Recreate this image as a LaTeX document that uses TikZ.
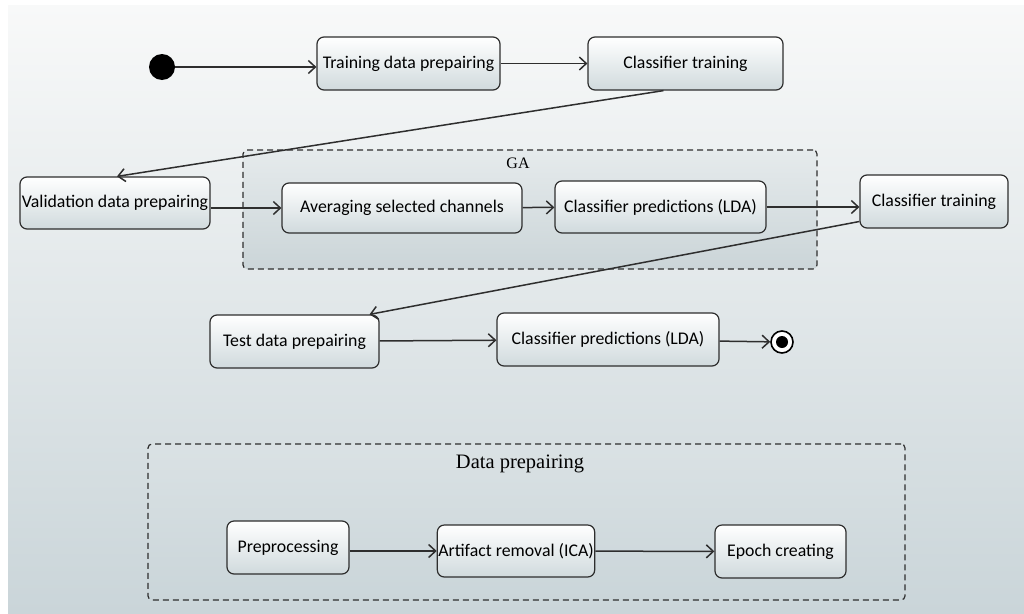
\documentclass[tikz,border=0pt]{standalone}
\usepackage{fontspec}
\setmainfont{Liberation Serif}
\newfontfamily\actfont{Carlito}
\usetikzlibrary{arrows.meta}
\definecolor{bgtop}{HTML}{F8F9F9}
\definecolor{bgbot}{HTML}{CAD5D9}
\definecolor{boxbot}{HTML}{D0DADD}
\definecolor{linecol}{HTML}{2E2E2E}

\begin{document}
\begin{tikzpicture}[x=1pt,y=-1pt,
	act/.style={draw=linecol,line width=1.2pt,rounded corners=7pt,top color=white,bottom color=boxbot,
		inner sep=1pt,font=\actfont\fontsize{17.8}{19}\selectfont},
	dims/.style 2 args={minimum width=#1,minimum height=#2},
	region/.style={draw=linecol,line width=1.2pt,dash pattern=on 6pt off 4pt,rounded corners=4pt,inner sep=0pt},
	regtitle/.style={font=\fontsize{#1}{#1}\selectfont},
	flow/.style={draw=linecol,line width=1.5pt,-{Straight Barb[length=7pt,width=13pt]}}]
	\useasboundingbox (0,0) rectangle (1024,613);
	\shade[top color=bgtop,bottom color=bgbot] (8,5) rectangle (1024,613);

	% groups
	\node[region,dims={574pt}{119pt},top color=bgtop!60!bgbot,bottom color=bgbot!90!black!20!boxbot] (ga) at (530,209.5) {};
	\node[regtitle=16] (galabel) at (518,163) {GA};
	\node[region,dims={757pt}{156pt},top color=bgtop!35!bgbot,bottom color=bgbot] (dataprep) at (526.5,522) {};
	\node[regtitle=20.5] (dplabel) at (520,464) {Data prepairing};

	% main flow
	\node[circle,fill=black,minimum size=26pt,inner sep=0pt] (start) at (162,67) {};
	\node[act,dims={183pt}{53pt}] (train) at (408.5,63.5) {Training data prepairing};
	\node[act,dims={195pt}{53pt}] (ct1) at (685.5,63.5) {Classifier training};
	\node[act,dims={190pt}{52pt}] (val) at (115,203) {Validation data prepairing};
	\node[act,dims={240pt}{50pt}] (avg) at (402,208) {Averaging selected channels};
	\node[act,dims={211pt}{52pt}] (lda1) at (660.5,207) {Classifier predictions (LDA)};
	\node[act,dims={148pt}{53pt}] (ct2) at (934,201.5) {Classifier training};
	\node[act,dims={169pt}{53pt}] (test) at (294.5,341.5) {Test data prepairing};
	\node[act,dims={222pt}{53pt}] (lda2) at (608,339.5) {Classifier predictions (LDA)};
	\node[circle,draw=black,line width=1.6pt,fill=white,minimum size=22pt,inner sep=0pt] (stop) at (782,342) {};
	\node[circle,fill=black,minimum size=12pt,inner sep=0pt] (stopdot) at (stop) {};

	% data preparing steps
	\node[act,dims={122pt}{53pt}] (prep) at (288,547.5) {Preprocessing};
	\node[act,dims={156pt}{52pt}] (art) at (516,551) {Artifact removal (ICA)};
	\node[act,dims={131pt}{53pt}] (epoch) at (780.5,551.5) {Epoch creating};

	\draw[flow] (start.east) -- (start.east -| train.west);
	\draw[flow] (train) -- (ct1);
	\draw[flow] ([xshift=-22pt]ct1.south) -- ([xshift=2pt]val.north);
	\draw[flow] (val.east |- avg.west) -- (avg.west);
	\draw[flow] (avg) -- (lda1);
	\draw[flow] (lda1.east) -- (lda1.east -| ct2.west);
	\draw[flow] ([yshift=-20pt]ct2.west) -- ([xshift=75pt]test.north);
	\draw[flow] (test) -- (lda2);
	\draw[flow] (lda2) -- (stop);
	\draw[flow] (prep.east |- art.west) -- (art.west);
	\draw[flow] (art) -- (epoch);
\end{tikzpicture}
\end{document}
